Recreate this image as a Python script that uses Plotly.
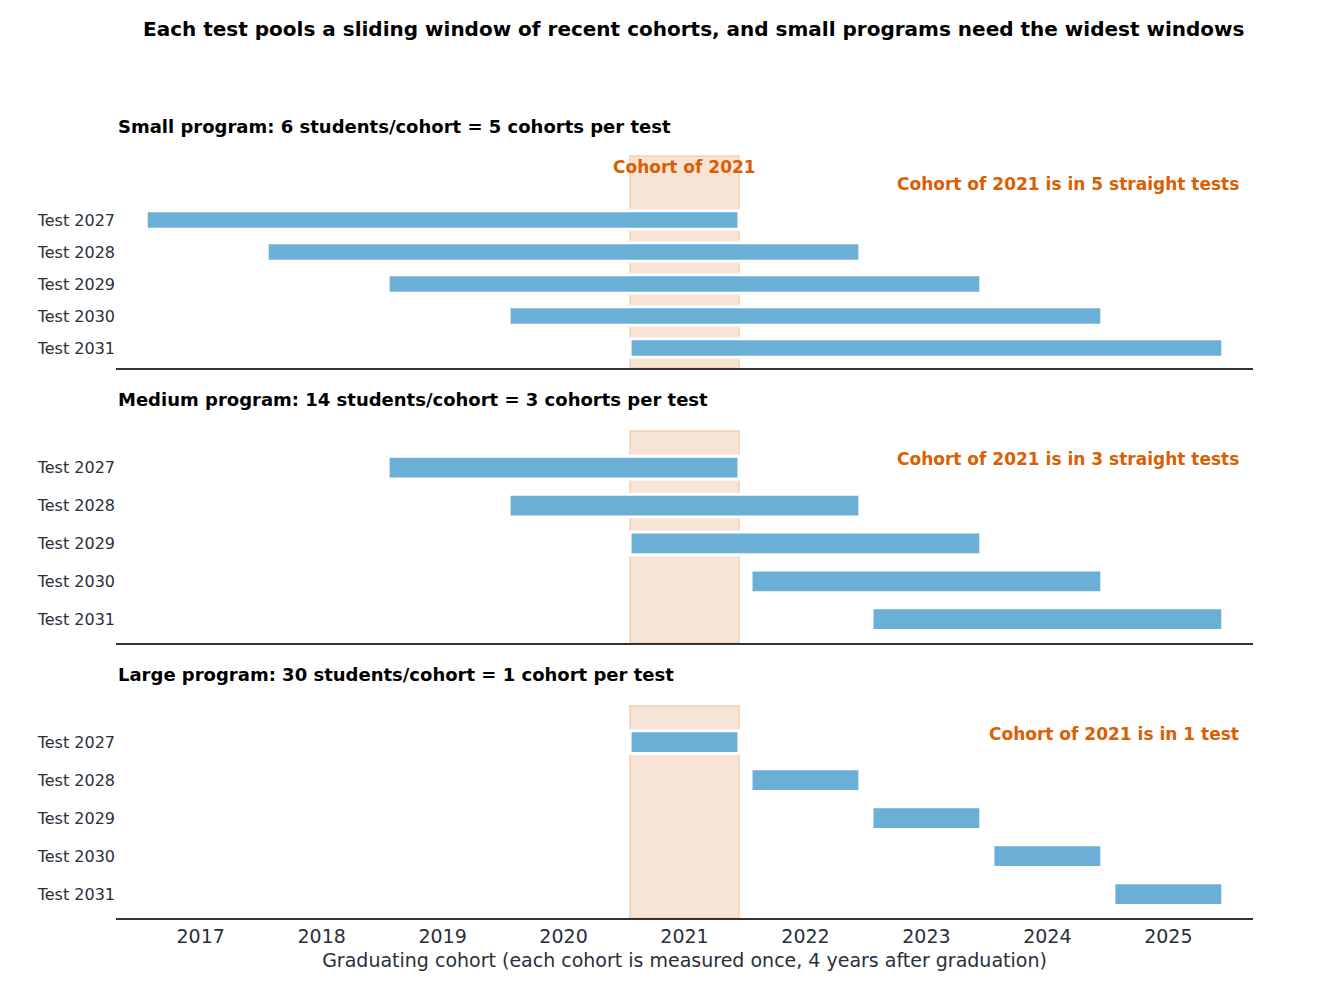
import plotly.graph_objects as go

tests = ["Test 2027", "Test 2028", "Test 2029", "Test 2030", "Test 2031"]
small_start = [2017, 2018, 2019, 2020, 2021]
small_end = [2021, 2022, 2023, 2024, 2025]
medium_start = [2019, 2020, 2021, 2022, 2023]
medium_end = [2021, 2022, 2023, 2024, 2025]
large_start = [2021, 2022, 2023, 2024, 2025]
large_end = [2021, 2022, 2023, 2024, 2025]
focus = 2021

panels = [
    ("Small program: 6 students/cohort = 5 cohorts per test", small_start, small_end,
     "Cohort of 2021 is in 5 straight tests", [0.7218, 1.0], [4.625, -2.0], 1.039, 0.963),
    ("Medium program: 14 students/cohort = 3 cohorts per test", medium_start, medium_end,
     "Cohort of 2021 is in 3 straight tests", [0.3609, 0.6391], [4.63, -0.97], 0.6798, 0.6024),
    ("Large program: 30 students/cohort = 1 cohort per test", large_start, large_end,
     "Cohort of 2021 is in 1 test", [0.0, 0.2782], [4.63, -0.95], 0.3189, 0.2415),
]

BAR = "#6baed6"
ORANGE = "#d95f02"
fig = go.Figure()
ann = []
shapes = []
for i, (title, st, en, note, dom, yr, ty, ny) in enumerate(panels):
    k = "" if i == 0 else str(i + 1)
    fig.add_trace(go.Bar(
        y=list(range(len(tests))), x=[e - s + 0.9 for s, e in zip(st, en)],
        base=[s - 0.45 for s in st], orientation="h", width=0.6 if i else 0.58,
        marker=dict(color=BAR, line=dict(color="white", width=3)),
        xaxis="x" + k, yaxis="y" + k, showlegend=False, hoverinfo="skip"))
    shapes.append(dict(type="rect", xref="x" + k, yref=f"y{k} domain",
                       x0=focus - 0.45, x1=focus + 0.45, y0=0, y1=1, layer="below",
                       fillcolor="#f8e4d6", line=dict(color="#f5cfb0", width=1.5)))
    ann.append(dict(text=f"<b>{title}</b>", xref="paper", yref="paper", x=0, y=ty,
                    xanchor="left", yanchor="middle", showarrow=False,
                    font=dict(size=18, color="black")))
    ann.append(dict(text=f"<b>{note}</b>", xref="paper", yref="paper", x=0.9894, y=ny,
                    xanchor="right", yanchor="middle", showarrow=False,
                    font=dict(size=17, color=ORANGE)))
    xa = dict(range=[2016.3, 2025.7], showgrid=False, zeroline=False,
              showline=True, linecolor="#333", linewidth=1.5,
              tickvals=list(range(2017, 2026)), ticks="",
              showticklabels=(i == 2), tickfont=dict(size=19, color="#2a2f3a"))
    if i:
        xa["matches"] = "x"
    if i == 2:
        xa["title"] = dict(text="Graduating cohort (each cohort is measured once, 4 years after graduation)",
                           font=dict(size=19, color="#2a2f3a"), standoff=8)
    ya = dict(domain=dom, range=yr, tickvals=list(range(len(tests))), ticktext=tests,
              showgrid=False, zeroline=False, showline=False, ticks="",
              tickfont=dict(size=16, color="#2a2f3a"), anchor="x" + k)
    xa["anchor"] = "y" + k
    fig.update_layout(**{"xaxis" + k: xa, "yaxis" + k: ya})

ann.append(dict(text="<b>Cohort of 2021</b>", xref="x", yref="paper", x=focus, y=0.985,
                xanchor="center", yanchor="middle", showarrow=False,
                font=dict(size=17, color=ORANGE)))
ann.append(dict(text="<b>Each test pools a sliding window of recent cohorts, and small programs need the widest windows</b>",
                xref="paper", yref="paper", x=0.508, y=1.167, xanchor="center", yanchor="middle",
                showarrow=False, font=dict(size=20, color="black")))

fig.update_layout(width=1329, height=981, margin=dict(l=108, r=84, t=148, b=71),
                  paper_bgcolor="white", plot_bgcolor="white", annotations=ann,
                  shapes=shapes, font=dict(family="DejaVu Sans"), barmode="overlay")
fig.write_html("out.html")
